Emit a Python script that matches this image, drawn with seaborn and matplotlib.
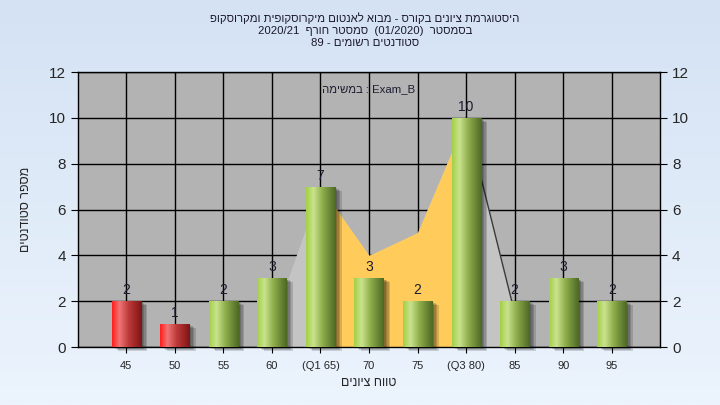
import re
import numpy as np
import matplotlib
matplotlib.use("Agg")
import matplotlib.pyplot as plt
import matplotlib.transforms as mtransforms
from matplotlib.colors import LinearSegmentedColormap
from matplotlib.patches import Rectangle
import seaborn as sns

# ---- data ----
grades = ["45", "50", "55", "60", "(Q1 65)", "70", "75", "(Q3 80)", "85", "90", "95"]
students = [2, 1, 2, 3, 7, 3, 2, 10, 2, 3, 2]
failing = [True, True, False, False, False, False, False, False, False, False, False]
trend = [1, 7, 4, 5, 10, 1.5]   # background area series, from 60 to 85
trend_start = 3
q1_idx, q3_idx = 4, 7

title_lines = [
    "היסטוגרמת ציונים בקורס - מבוא לאנטום מיקרוסקופית ומקרוסקופ",
    "בסמסטר  (01/2020)  סמסטר חורף  2020/21",
    "סטודנטים רשומים - 89",
]


def rtl(s):
    # crude visual reordering for hebrew text, keeps latin / digit runs
    r = s[::-1]
    r = re.sub(r"[A-Za-z0-9_/.]+", lambda m: m.group(0)[::-1], r)
    return r.translate(str.maketrans("()", ")("))


sns.set_style("white")
plt.rcParams["font.family"] = ["Liberation Sans", "DejaVu Sans"]

fig = plt.figure(figsize=(7.2, 4.05), dpi=100)

# background gradient
bg = fig.add_axes([0, 0, 1, 1], zorder=-10)
bg_cmap = LinearSegmentedColormap.from_list("bg", ["#d4e2f4", "#ecf4fd"])
bg.imshow(np.linspace(0, 1, 256).reshape(-1, 1), aspect="auto", cmap=bg_cmap, extent=[0, 1, 0, 1])
bg.axis("off")

ax = fig.add_axes([0.108, 0.143, 0.809, 0.679])
ax.set_facecolor("#b3b3b3")

x = np.arange(len(grades))
tx = x[trend_start:trend_start + len(trend)]

# area behind the bars
ax.fill_between(tx, trend, color="#c4c4c4", lw=0, zorder=1)
a, b = q1_idx - trend_start, q3_idx - trend_start
ax.fill_between(tx[a:b + 1], trend[a:b + 1], color="#ffcb5a", lw=0, zorder=1.1)
ax.plot(tx[b:b + 2], trend[b:b + 2], color="#3a3a3a", lw=1, zorder=1.2)

colors = ["#e02a2a" if f else "#93bf45" for f in failing]
sns.barplot(x=grades, y=students, order=grades, palette=colors, hue=grades, legend=False,
            width=0.6, ax=ax, zorder=3, saturation=1)
bars = [p for p in ax.patches if p.get_height() > 0]

green_cmap = LinearSegmentedColormap.from_list(
    "g", [(0, "#a3cf45"), (0.25, "#c9e38e"), (0.55, "#8fae4b"), (1, "#4c6824")])
red_cmap = LinearSegmentedColormap.from_list(
    "r", [(0, "#ff1e1e"), (0.25, "#f07474"), (0.55, "#c03a3a"), (1, "#7e1414")])
grad = np.linspace(0, 1, 128).reshape(1, -1)

for patch, f in zip(bars, failing):
    x0, y0 = patch.get_xy()
    w, h = patch.get_width(), patch.get_height()
    patch.set_edgecolor("none")
    # soft shadow to the lower right
    for off in [2, 3.5, 5, 6.5]:
        tr = mtransforms.offset_copy(ax.transData, fig=fig, x=off, y=-off * 0.6, units="dots")
        ax.add_patch(Rectangle((x0, y0), w, h, transform=tr, color="black",
                               alpha=0.15, lw=0, zorder=2, clip_on=False))
    im = ax.imshow(grad, extent=[x0, x0 + w, y0, y0 + h], aspect="auto",
                   cmap=red_cmap if f else green_cmap, zorder=3.5)
    im.set_clip_path(patch)
    ax.annotate(str(int(h)), (x0 + w / 2, y0 + h), xytext=(0, 3), textcoords="offset points",
                ha="center", va="bottom", fontsize=10, color="#1c1c30")

ax.set_xlim(-1, len(grades))
ax.set_ylim(0, 12)
ax.set_yticks(range(0, 13, 2))
ax.set_xticks(x)
ax.set_xticklabels(grades, fontsize=8)
ax.grid(True, color="black", lw=1, zorder=0)
ax.set_axisbelow(True)
for s in ax.spines.values():
    s.set_color("black")
    s.set_linewidth(1)
ax.tick_params(axis="y", labelsize=11, direction="out", length=5, color="black",
               right=True, labelright=True, left=True)
ax.tick_params(axis="x", direction="out", length=4, color="black", bottom=True, pad=6)

ax.set_xlabel(rtl("טווח ציונים"), fontsize=9, labelpad=4)
ax.set_ylabel(rtl("מספר סטודנטים"), fontsize=9, labelpad=12)

ax.text(0.5, 0.955, rtl("במשימה") + " : Exam_B", transform=ax.transAxes, ha="center",
        va="top", fontsize=8.2, color="#1c1c30")

for i, line in enumerate(title_lines):
    fig.text(0.507, 1 - (18 + 12.5 * i) / 405, rtl(line), ha="center", va="center",
             fontsize=8.2, color="#1a1a2a")

fig.savefig("out.png", dpi=100)
